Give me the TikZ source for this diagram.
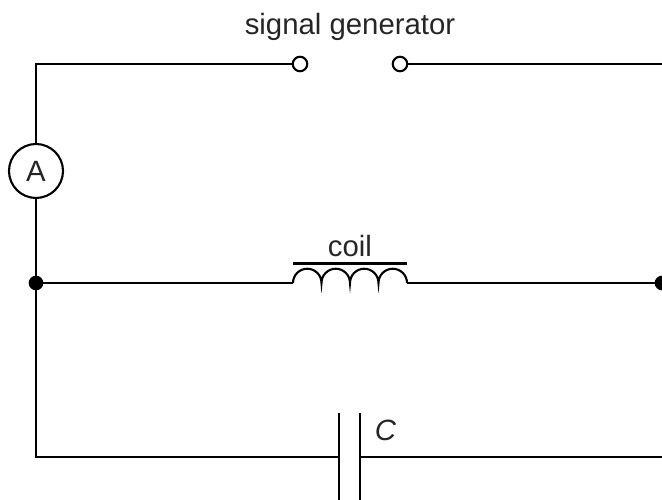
\documentclass[tikz,border=0pt]{standalone}
\usepackage{fontspec}
\setmainfont{Liberation Sans}
\usetikzlibrary{arrows.meta}
\tikzset{
  every picture/.style={font={\fontsize{16.7}{20}\selectfont}, line width=1.2pt},
  terminal/.style={draw, circle, fill=white, minimum size=0.29cm, inner sep=0pt},
  junction/.style={draw, circle, fill=black, minimum size=0.25cm, inner sep=0pt},
  meter/.style={draw, circle, minimum size=1.08cm, inner sep=0pt},
  wirelabel/.style={text=black!85, inner sep=0pt}}

\begin{document}
\begin{tikzpicture}
    \useasboundingbox (0, 0) rectangle (13.24, 10);
    \clip (0, 0) rectangle (13.24, 10);

    \node[terminal] (T1) at (6, 8.72) {};
    \node[terminal] (T2) at (8, 8.72) {};
    \node[meter, wirelabel, draw=black] (M) at (0.72, 6.58) {A};
    \node[junction] (J1) at (0.72, 4.34) {};
    \node[junction] (J2) at (13.24, 4.34) {};

    \coordinate (TL) at (0.72, 8.72);
    \coordinate (TR) at (13.24, 8.72);
    \coordinate (BL) at (0.72, 0.86);
    \coordinate (BR) at (13.24, 0.86);
    \coordinate (L1) at (5.86, 4.34);
    \coordinate (L2) at (8.14, 4.34);
    \coordinate (P1) at (6.78, 0.86);
    \coordinate (P2) at (7.2, 0.86);

    % wires
    \draw (T1) to (TL) to (M);
    \draw (T2) to (TR);
    \draw (M) to (J1);
    \draw (J1) to (L1);
    \draw (L2) to (J2);
    \draw (J1) to (BL) to (P1);
    \draw (P2) to (BR);

    % coil
    \draw (L1) arc (180:0:0.285) arc (180:0:0.285) arc (180:0:0.285) arc (180:0:0.285);
    \draw (5.86, 4.73) to (8.14, 4.73);

    % capacitor plates
    \draw (6.78, 1.74) to (6.78, 0);
    \draw (7.2, 1.74) to (7.2, 0);

    \node[wirelabel] (G) at (7, 9.46) {signal generator};
    \node[wirelabel] (K) at (7, 5.07) {coil};
    \node[wirelabel] (C) at (7.71, 1.4) {\itshape C};
\end{tikzpicture}
\end{document}
